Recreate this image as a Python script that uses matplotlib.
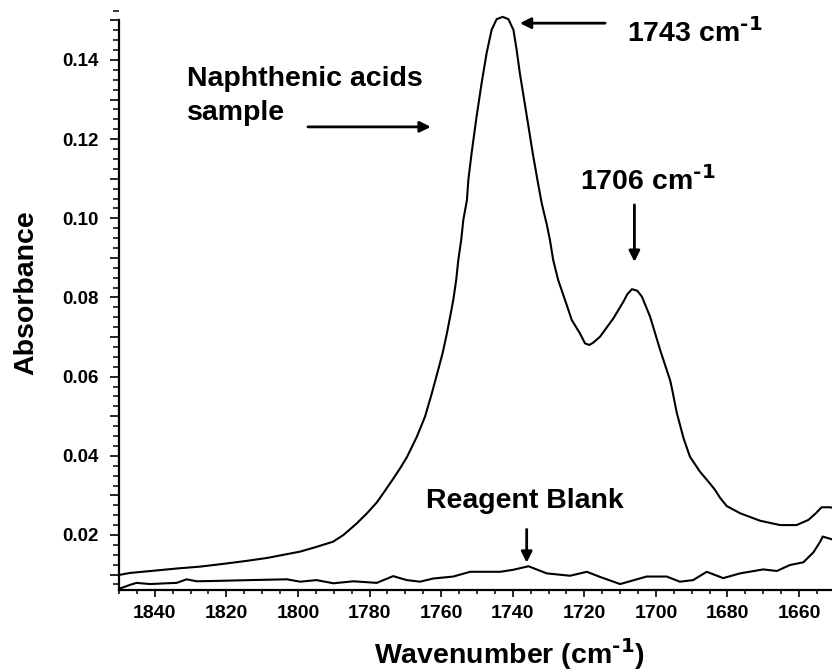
import matplotlib
matplotlib.use("Agg")
import matplotlib.pyplot as plt
from matplotlib.ticker import FixedLocator, MultipleLocator, FuncFormatter

plt.rcParams['font.family'] = ['Liberation Sans', 'DejaVu Sans']
plt.rcParams['font.weight'] = 'bold'
plt.rcParams['mathtext.default'] = 'regular'

# Naphthenic acids sample spectrum (wavenumber, absorbance)
sample_wn = [1850.0, 1847.0, 1840.0, 1833.0, 1827.4, 1820.0, 1814.0, 1808.6, 1799.4,
             1794.8, 1790.2, 1787.3, 1783.6, 1780.7, 1778.0, 1776.2, 1773.4, 1771.5,
             1769.6, 1766.8, 1764.5, 1762.6, 1761.1, 1759.6, 1758.4, 1757.5, 1756.6,
             1755.8, 1755.2, 1754.4, 1753.8, 1752.8, 1752.4, 1751.5, 1750.1, 1748.7,
             1747.3, 1745.9, 1744.5, 1742.8, 1741.2, 1739.8, 1738.9, 1738.0, 1736.8,
             1735.6, 1734.4, 1733.1, 1731.9, 1730.5, 1729.6, 1728.7, 1727.3,
             1725.4, 1723.5, 1721.2, 1719.8, 1718.6, 1717.5, 1715.6, 1711.9, 1709.1,
             1708.0, 1706.7, 1705.2, 1703.9, 1701.6, 1698.8, 1696.0, 1695.4, 1694.2,
             1692.3, 1690.5, 1687.7, 1684.9, 1683.5, 1682.0, 1680.2, 1676.5, 1670.9,
             1665.3, 1660.7, 1657.4, 1655.3, 1653.7, 1651.4, 1650.8]
sample_abs = [0.0099, 0.0104, 0.0110, 0.0116, 0.0120, 0.0128, 0.0135, 0.0142, 0.0158,
              0.0170, 0.0183, 0.0200, 0.0229, 0.0255, 0.0282, 0.0305, 0.0342, 0.0368,
              0.0396, 0.0448, 0.0499, 0.0558, 0.0608, 0.0659, 0.0709, 0.0751, 0.0794,
              0.0844, 0.0895, 0.0945, 0.0996, 0.1046, 0.1097, 0.1164, 0.1257, 0.1341,
              0.1417, 0.1476, 0.1503, 0.1509, 0.1503, 0.1476, 0.1425, 0.1366, 0.1299,
              0.1232, 0.1164, 0.1097, 0.1038, 0.0985, 0.0945, 0.0895, 0.0844,
              0.0794, 0.0743, 0.0709, 0.0684, 0.0680, 0.0686, 0.0701, 0.0747, 0.0789,
              0.0808, 0.0821, 0.0817, 0.0802, 0.0751, 0.0667, 0.0590, 0.0565, 0.0510,
              0.0445, 0.0398, 0.0360, 0.0330, 0.0314, 0.0293, 0.0273, 0.0255, 0.0236,
              0.0225, 0.0225, 0.0238, 0.0255, 0.0270, 0.0270, 0.0269]

# Reagent blank spectrum
blank_wn = [1849.7, 1846.9, 1845.1, 1841.3, 1836.7, 1833.9, 1831.1, 1828.3, 1822.7,
            1813.4, 1803.1, 1799.4, 1794.8, 1790.1, 1784.5, 1778.0, 1773.4, 1769.6,
            1765.9, 1762.2, 1756.6, 1751.9, 1743.5, 1739.9, 1735.6, 1730.5, 1724.0,
            1719.3, 1715.6, 1710.0, 1702.6, 1697.0, 1693.3, 1689.6, 1685.8, 1681.2,
            1676.5, 1670.0, 1666.2, 1662.6, 1658.8, 1656.0, 1654.1, 1653.4, 1650.8]
blank_abs = [0.0065, 0.0074, 0.0079, 0.0076, 0.0078, 0.0079, 0.0088, 0.0083, 0.0084,
             0.0086, 0.0088, 0.0082, 0.0086, 0.0078, 0.0083, 0.0079, 0.0096, 0.0086,
             0.0082, 0.0090, 0.0095, 0.0107, 0.0107, 0.0112, 0.0121, 0.0103, 0.0097,
             0.0107, 0.0094, 0.0076, 0.0095, 0.0095, 0.0082, 0.0086, 0.0107, 0.0091,
             0.0103, 0.0113, 0.0109, 0.0124, 0.0131, 0.0156, 0.0183, 0.0196, 0.0189]

x_ticks = [1840, 1820, 1800, 1780, 1760, 1740, 1720, 1700, 1680, 1660]
y_ticks = [0.02, 0.04, 0.06, 0.08, 0.10, 0.12, 0.14]

peak_main = 1743
peak_second = 1706
unit = r'cm$^{\text{-1}}$'

fig = plt.figure(figsize=(8.32, 6.72), dpi=100)
ax = fig.add_axes([119 / 832, 1 - 590 / 672, 713 / 832, 579.5 / 672])

ax.plot(sample_wn, sample_abs, color='black', lw=1.5, clip_on=False,
        solid_joinstyle='round')
ax.plot(blank_wn, blank_abs, color='black', lw=1.5, clip_on=False,
        solid_joinstyle='round')

ax.set_xlim(1850, 1650.8)
ax.set_ylim(0.0061, 0.1525)

for s in ('top', 'right'):
    ax.spines[s].set_visible(False)
ax.spines['left'].set_bounds(0.0061, 0.150)
ax.spines['left'].set_linewidth(1.6)
ax.spines['bottom'].set_linewidth(1.6)

# y ticks: long ticks every 0.01, labels every 0.02, short ticks every 0.0025
ax.yaxis.set_major_locator(FixedLocator([i / 100 for i in range(1, 16)]))
ax.yaxis.set_major_formatter(FuncFormatter(
    lambda v, p: f"{v:.2f}" if any(abs(v - t) < 1e-9 for t in y_ticks) else ""))
ax.yaxis.set_minor_locator(MultipleLocator(0.0025))
ax.tick_params(axis='y', which='major', length=6.5, width=1.2, pad=8, labelsize=13.5)
ax.tick_params(axis='y', which='minor', length=4.3, width=1.1)

ax.xaxis.set_major_locator(FixedLocator(x_ticks))
ax.xaxis.set_minor_locator(MultipleLocator(5))
ax.tick_params(axis='x', which='major', length=5, width=1.2, pad=6, labelsize=14)
ax.tick_params(axis='x', which='minor', length=3, width=1.1)
for lab in ax.get_xticklabels() + ax.get_yticklabels():
    lab.set_fontweight('bold')

ax.set_xlabel('Wavenumber (' + unit + ')', fontsize=20.5, fontweight='bold')
ax.xaxis.set_label_coords(0.548, -0.1277)
ax.xaxis.label.set_va('baseline')
ax.set_ylabel('Absorbance', fontsize=20.5, fontweight='bold')
ax.yaxis.set_label_coords(-0.1206, 0.5125)
ax.yaxis.label.set_va('baseline')

arrow = dict(arrowstyle='-|>', lw=2.0, color='black', mutation_scale=16,
             shrinkA=0, shrinkB=0)
fs = 20.5

ax.text(1831.1, 0.1333, 'Naphthenic acids', fontsize=fs, fontweight='bold',
        ha='left', va='baseline')
ax.text(1831.1, 0.1248, 'sample', fontsize=fs, fontweight='bold',
        ha='left', va='baseline')
ax.annotate('', xy=(1762.9, 0.1231), xytext=(1797.2, 0.1231), arrowprops=arrow)

ax.text(1708.1, 0.1446, f'{peak_main} ' + unit, fontsize=fs, fontweight='bold',
        ha='left', va='baseline')
ax.annotate('', xy=(1738.0, 0.1493), xytext=(1714.2, 0.1493), arrowprops=arrow,
            annotation_clip=False)

ax.text(1721.2, 0.1072, f'{peak_second} ' + unit, fontsize=fs, fontweight='bold',
        ha='left', va='baseline')
ax.annotate('', xy=(peak_second, 0.0890), xytext=(peak_second, 0.1034), arrowprops=arrow)

ax.text(1764.2, 0.0267, 'Reagent Blank', fontsize=fs, fontweight='bold',
        ha='left', va='baseline')
ax.annotate('', xy=(1736.1, 0.0130), xytext=(1736.1, 0.0214), arrowprops=arrow)

fig.savefig('out.png', dpi=100)
